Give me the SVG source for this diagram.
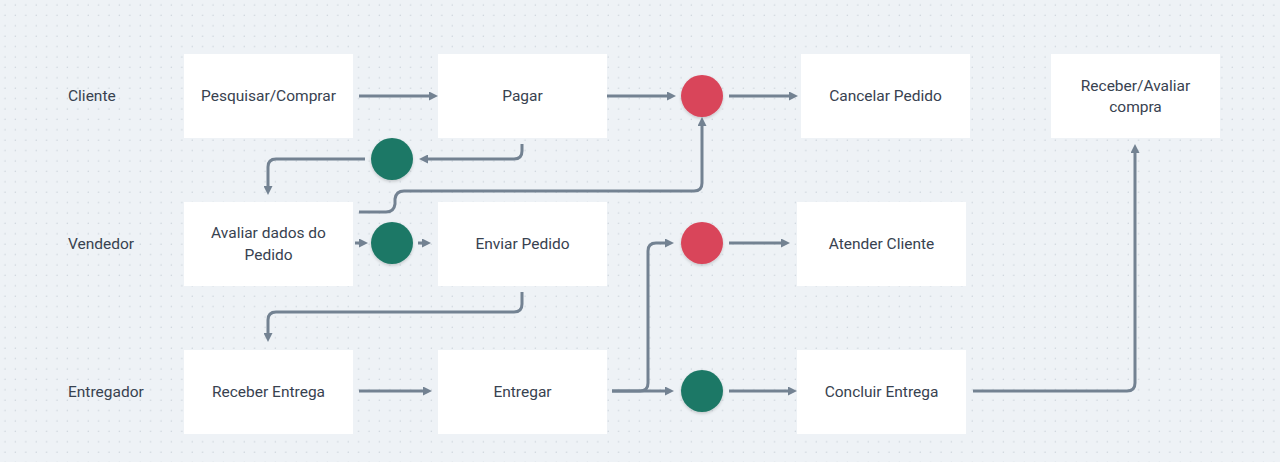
<svg xmlns="http://www.w3.org/2000/svg" width="1280" height="462" viewBox="0 0 1280 462">
<defs>
<pattern id="dots" width="10.4" height="10.4" patternUnits="userSpaceOnUse" x="0" y="0">
<circle cx="5" cy="5" r="0.7" fill="#c6ced6"/>
</pattern>
<marker id="arr" viewBox="0 0 9 9" markerUnits="userSpaceOnUse" markerWidth="9" markerHeight="9" refX="3" refY="4.5" orient="auto">
<path d="M0,0 L9,4.5 L0,9 z" fill="#738292"/>
</marker>
<filter id="sh" x="-30%" y="-30%" width="160%" height="170%">
<feDropShadow dx="0" dy="1.5" stdDeviation="1.5" flood-color="#000" flood-opacity="0.18"/>
</filter>
</defs>
<style>
.box{fill:#ffffff;}
.t{font-family:Roboto,"Liberation Sans",sans-serif;font-size:15.5px;font-weight:400;fill:#384250;text-anchor:middle;dominant-baseline:central;}
.lane{font-family:Roboto,"Liberation Sans",sans-serif;font-size:15.5px;font-weight:400;fill:#384250;dominant-baseline:central;}
.c{fill:none;stroke:#738292;stroke-width:3;marker-end:url(#arr);}
.g{fill:#1f7866;filter:url(#sh);}
.r{fill:#d9455a;filter:url(#sh);}
</style>
<rect width="1280" height="462" fill="#eef2f6"/>
<rect width="1280" height="462" fill="url(#dots)"/>

<g id="lanes">
<text class="lane" x="68" y="96">Cliente</text>
<text class="lane" x="68" y="244">Vendedor</text>
<text class="lane" x="68" y="392">Entregador</text>
</g>

<g id="connectors">
<path class="c" d="M359,96 H432"/>
<path class="c" d="M606,96 H670"/>
<path class="c" d="M729,96 H792"/>
<path class="c" d="M522,144 V151 Q522,159 514,159 H425"/>
<path class="c" d="M365,159 H276 Q268,159 268,167 V189"/>
<path class="c" d="M359,212 H386 Q394,212 395,204 V199 Q396,191 404,191 H694 Q702,191 702,183 V123"/>
<path class="c" d="M355,243 H362"/>
<path class="c" d="M418,243 H425"/>
<path class="c" d="M522,292 V304 Q522,312 514,312 H276 Q268,312 268,320 V336"/>
<path class="c" d="M359,391 H426"/>
<path class="c" d="M612,391 H668"/>
<path class="c" d="M612,391 H640 Q648,391 648,383 V251 Q648,243 656,243 H668"/>
<path class="c" d="M729,243 H784"/>
<path class="c" d="M729,391 H791"/>
<path class="c" d="M973,391 H1127 Q1135,391 1135,383 V150"/>
</g>

<g id="n-pesquisar"><rect class="box" x="184" y="54" width="169" height="84"/><text class="t" x="268.5" y="96">Pesquisar/Comprar</text></g>
<g id="n-pagar"><rect class="box" x="438" y="54" width="169" height="84"/><text class="t" x="522.5" y="96">Pagar</text></g>
<g id="n-cancelar"><rect class="box" x="801" y="54" width="169" height="84"/><text class="t" x="885.5" y="96">Cancelar Pedido</text></g>
<g id="n-receber-avaliar"><rect class="box" x="1051" y="54" width="169" height="84"/><text class="t" x="1135.5" y="85.5">Receber/Avaliar</text><text class="t" x="1135.5" y="106.5">compra</text></g>
<g id="n-avaliar"><rect class="box" x="184" y="202" width="169" height="84"/><text class="t" x="268.5" y="233">Avaliar dados do</text><text class="t" x="268.5" y="254.5">Pedido</text></g>
<g id="n-enviar"><rect class="box" x="438" y="202" width="169" height="84"/><text class="t" x="522.5" y="244">Enviar Pedido</text></g>
<g id="n-atender"><rect class="box" x="797" y="202" width="169" height="84"/><text class="t" x="881.5" y="244">Atender Cliente</text></g>
<g id="n-receber-entrega"><rect class="box" x="184" y="350" width="169" height="84"/><text class="t" x="268.5" y="392">Receber Entrega</text></g>
<g id="n-entregar"><rect class="box" x="438" y="350" width="169" height="84"/><text class="t" x="522.5" y="392">Entregar</text></g>
<g id="n-concluir"><rect class="box" x="797" y="350" width="169" height="84"/><text class="t" x="881.5" y="392">Concluir Entrega</text></g>

<g id="g1"><circle class="g" cx="392" cy="159" r="21"/></g>
<g id="g2"><circle class="g" cx="392" cy="243" r="21"/></g>
<g id="g3"><circle class="g" cx="702" cy="391" r="21"/></g>
<g id="r1"><circle class="r" cx="702" cy="96" r="21"/></g>
<g id="r2"><circle class="r" cx="702" cy="243" r="21"/></g>
</svg>
